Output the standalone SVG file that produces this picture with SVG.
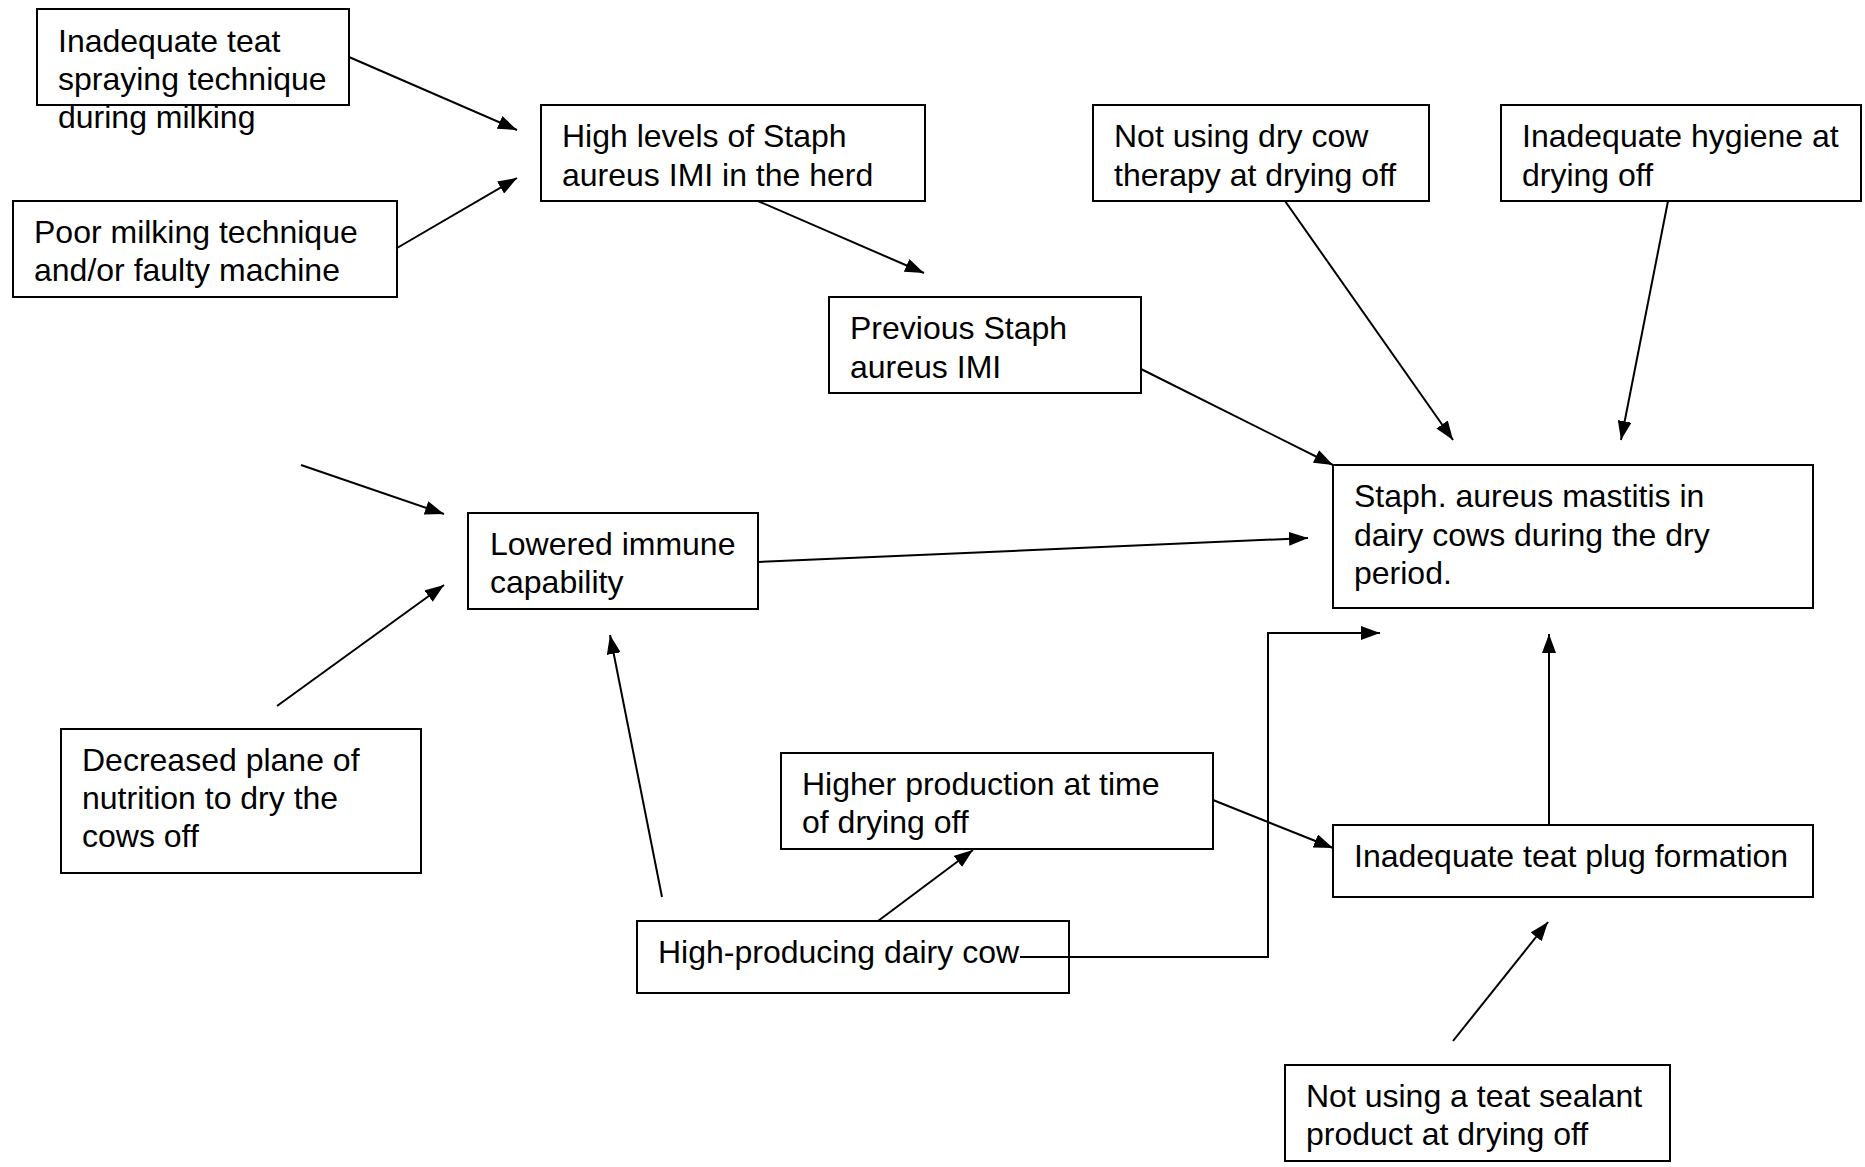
<svg xmlns="http://www.w3.org/2000/svg" width="1865" height="1167" viewBox="0 0 1865 1167">
<style>
.box{fill:#fff;stroke:#000;stroke-width:2}
.t{font-family:"Liberation Sans",Arial,sans-serif;font-size:32px;fill:#000}
.c{fill:none;stroke:#000;stroke-width:2}
</style>
<defs>
<marker id="ah" markerUnits="userSpaceOnUse" markerWidth="20" markerHeight="14" refX="19" refY="7" orient="auto">
<path d="M0,0 L19,7 L0,14 z" fill="#000"/>
</marker>
</defs>
<rect width="1865" height="1167" fill="#fff"/>
<g id="connectors">
<line class="c" x1="349" y1="57" x2="517" y2="130" marker-end="url(#ah)"/>
<line class="c" x1="397" y1="248" x2="517" y2="178" marker-end="url(#ah)"/>
<line class="c" x1="758" y1="201" x2="924" y2="273" marker-end="url(#ah)"/>
<line class="c" x1="1141" y1="369" x2="1333" y2="465" marker-end="url(#ah)"/>
<line class="c" x1="1285" y1="201" x2="1453" y2="440" marker-end="url(#ah)"/>
<line class="c" x1="1668" y1="201" x2="1621" y2="440" marker-end="url(#ah)"/>
<line class="c" x1="758" y1="562" x2="1308" y2="538" marker-end="url(#ah)"/>
<line class="c" x1="301" y1="465" x2="444" y2="514" marker-end="url(#ah)"/>
<line class="c" x1="277" y1="706" x2="444" y2="585" marker-end="url(#ah)"/>
<line class="c" x1="662" y1="897" x2="610" y2="635" marker-end="url(#ah)"/>
<line class="c" x1="878" y1="921" x2="973" y2="850" marker-end="url(#ah)"/>
<polyline class="c" points="1020,957 1268,957 1268,633 1380,633" marker-end="url(#ah)"/>
<line class="c" x1="1213" y1="800" x2="1333" y2="848" marker-end="url(#ah)"/>
<line class="c" x1="1549" y1="825" x2="1549" y2="634" marker-end="url(#ah)"/>
<line class="c" x1="1453" y1="1041" x2="1548" y2="922" marker-end="url(#ah)"/>
</g>
<g id="n1"><rect class="box" x="37" y="9" width="312" height="96"/>
<text class="t" x="58" y="52">Inadequate teat</text><text class="t" x="58" y="90">spraying technique</text><text class="t" x="58" y="128">during milking</text></g>
<g id="n2"><rect class="box" x="13" y="201" width="384" height="96"/>
<text class="t" x="34" y="243">Poor milking technique</text><text class="t" x="34" y="281">and/or faulty machine</text></g>
<g id="n3"><rect class="box" x="541" y="105" width="384" height="96"/>
<text class="t" x="562" y="147">High levels of Staph</text><text class="t" x="562" y="186">aureus IMI in the herd</text></g>
<g id="n4"><rect class="box" x="829" y="297" width="312" height="96"/>
<text class="t" x="850" y="339">Previous Staph</text><text class="t" x="850" y="378">aureus IMI</text></g>
<g id="n5"><rect class="box" x="1093" y="105" width="336" height="96"/>
<text class="t" x="1114" y="147">Not using dry cow</text><text class="t" x="1114" y="186">therapy at drying off</text></g>
<g id="n6"><rect class="box" x="1501" y="105" width="360" height="96"/>
<text class="t" x="1522" y="147">Inadequate hygiene at</text><text class="t" x="1522" y="186">drying off</text></g>
<g id="n7"><rect class="box" x="1333" y="465" width="480" height="143"/>
<text class="t" x="1354" y="507">Staph. aureus mastitis in</text><text class="t" x="1354" y="546">dairy cows during the dry</text><text class="t" x="1354" y="584">period.</text></g>
<g id="n8"><rect class="box" x="468" y="513" width="290" height="96"/>
<text class="t" x="490" y="555">Lowered immune</text><text class="t" x="490" y="593">capability</text></g>
<g id="n9"><rect class="box" x="61" y="729" width="360" height="144"/>
<text class="t" x="82" y="771">Decreased plane of</text><text class="t" x="82" y="809">nutrition to dry the</text><text class="t" x="82" y="847">cows off</text></g>
<g id="n10"><rect class="box" x="781" y="753" width="432" height="96"/>
<text class="t" x="802" y="795">Higher production at time</text><text class="t" x="802" y="833">of drying off</text></g>
<g id="n11"><rect class="box" x="637" y="921" width="432" height="72"/>
<text class="t" x="658" y="963">High-producing dairy cow</text></g>
<line class="c" x1="1020" y1="957" x2="1069" y2="957"/>
<g id="n12"><rect class="box" x="1333" y="825" width="480" height="72"/>
<text class="t" x="1354" y="867">Inadequate teat plug formation</text></g>
<g id="n13"><rect class="box" x="1285" y="1065" width="385" height="96"/>
<text class="t" x="1306" y="1107">Not using a teat sealant</text><text class="t" x="1306" y="1145">product at drying off</text></g>
</svg>
